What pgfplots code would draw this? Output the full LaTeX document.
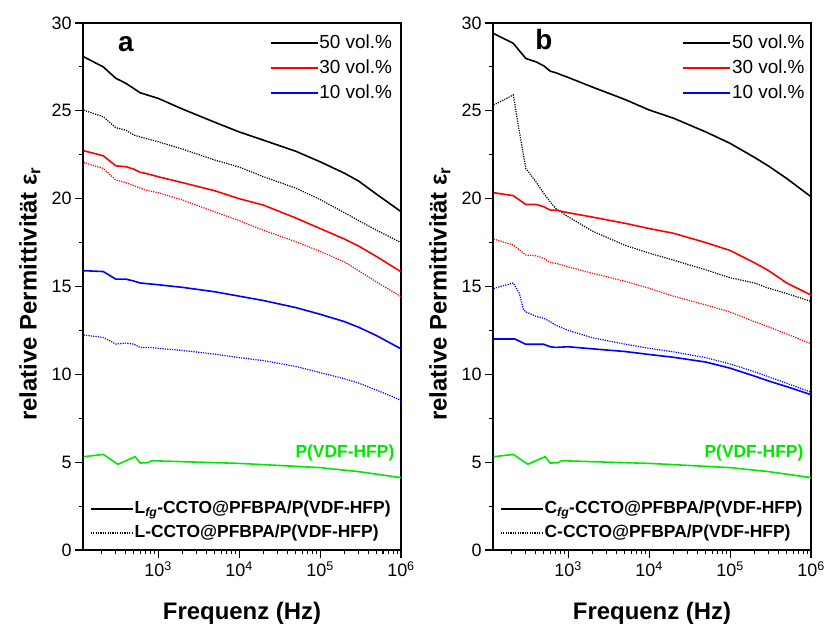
\documentclass[border=0pt]{standalone}
\usepackage{pgfplots}
\pgfplotsset{compat=1.18}
\usepackage{fontspec}
\setmainfont{Liberation Sans}
\definecolor{pgreen}{RGB}{0,232,0}
\definecolor{pred}{RGB}{255,0,0}
\definecolor{pblue}{RGB}{0,0,255}
\tikzset{
  sol/.style={line width=1.6bp},
  dot/.style={line width=1.2bp, dash pattern=on 1.2bp off 1.2bp},
}
\pgfplotsset{
  panel/.style={
    anchor=south west, scale only axis,
    width=318bp, height=527bp,
    xmin=118, xmax=1e6, ymin=0, ymax=30,
    xtick={1e3,1e4,1e5,1e6},
    xticklabels={10\textsuperscript{3},10\textsuperscript{4},10\textsuperscript{5},10\textsuperscript{6}},
    minor xtick={200,300,400,500,600,700,800,900,2000,3000,4000,5000,6000,7000,8000,9000,20000,30000,40000,50000,60000,70000,80000,90000,200000,300000,400000,500000,600000,700000,800000,900000},
    ytick={0,5,10,15,20,25,30}, yticklabels={0,5,10,15,20,25,30},
    minor ytick={2.5,7.5,12.5,17.5,22.5,27.5},
    tick pos=left, tick align=outside,
    major tick length=8bp, minor tick length=4.5bp,
    every tick/.style={black, line width=1.1bp},
    axis line style={line width=1.2bp},
    tick label style={font=\fontsize{18}{20}\selectfont},
    xlabel={Frequenz (Hz)},
    ylabel={relative Permittivität ε\textsubscript{r}},
    label style={font=\bfseries\fontsize{24}{26}\selectfont},
    xlabel style={at={(axis description cs:0.5,-0.12)}, anchor=center},
    ylabel style={at={(axis description cs:-0.167,0.486)}, anchor=center},
    legend cell align=left,
    legend style={draw=none, fill=none,
      font=\fontsize{19}{22}\selectfont, row sep=5bp,
      nodes={inner sep=1bp, text height=14bp, text depth=4bp}},
  },
  botlegend/.style={
    hide axis, anchor=south west, scale only axis,
    width=318bp, height=527bp, xmin=0, xmax=1, ymin=0, ymax=1,
    legend cell align=left,
    legend style={at={(axis description cs:0.012,0.008)}, anchor=south west, draw=none, fill=none,
      font=\bfseries\fontsize{17.5}{20}\selectfont, row sep=3bp,
      nodes={inner sep=1bp, text height=14bp, text depth=5bp}},
  },
  limg/.style 2 args={legend image code/.code={\draw[#1] (0bp,0bp) -- (#2,0bp);}},
}
\begin{document}
\begin{tikzpicture}[x=1bp,y=1bp]
\path[use as bounding box] (0,0) rectangle (824,630);
% ---------------- panel a ----------------
\begin{axis}[xmode=log, panel, at={(83bp,80bp)},
  legend style={at={(axis description cs:0.985,0.985)}, anchor=north east}]
\addlegendimage{limg={black,line width=1.2bp}{47bp}}\addlegendentry{50 vol.\%}
\addlegendimage{limg={pred,line width=1.2bp}{47bp}}\addlegendentry{30 vol.\%}
\addlegendimage{limg={pblue,line width=1.2bp}{47bp}}\addlegendentry{10 vol.\%}
\addplot[black,sol,forget plot] coordinates {(120,28.08)(210,27.5)(300,26.85)(350,26.7)(400,26.56)(500,26.27)(600,26.03)(700,25.93)(1000,25.71)(2000,25.1)(5000,24.35)(1e4,23.8)(2e4,23.33)(5e4,22.7)(1e5,22.1)(2e5,21.45)(3e5,21.0)(5e5,20.25)(1e6,19.26)};
\addplot[black,dot,forget plot] coordinates {(120,25.04)(210,24.66)(300,24.04)(400,23.9)(500,23.62)(700,23.43)(1000,23.24)(2000,22.82)(5000,22.2)(1e4,21.8)(2e4,21.25)(5e4,20.6)(1e5,19.95)(2e5,19.2)(3e5,18.75)(5e5,18.2)(1e6,17.5)};
\addplot[pred,sol,forget plot] coordinates {(120,22.73)(210,22.44)(300,21.87)(400,21.82)(500,21.68)(600,21.5)(700,21.44)(1000,21.25)(2000,20.91)(5000,20.45)(1e4,20.0)(2e4,19.63)(5e4,18.9)(1e5,18.3)(2e5,17.7)(3e5,17.3)(5e5,16.7)(1e6,15.84)};
\addplot[pred,dot,forget plot] coordinates {(120,22.06)(210,21.72)(300,21.06)(400,20.91)(500,20.74)(700,20.49)(1000,20.34)(2000,19.92)(5000,19.25)(1e4,18.75)(2e4,18.2)(5e4,17.55)(1e5,17.0)(2e5,16.4)(3e5,15.9)(5e5,15.25)(1e6,14.42)};
\addplot[pblue,sol,forget plot] coordinates {(120,15.9)(210,15.85)(300,15.42)(400,15.42)(500,15.31)(600,15.2)(700,15.17)(1000,15.1)(2000,14.95)(5000,14.7)(1e4,14.45)(2e4,14.2)(5e4,13.8)(1e5,13.42)(2e5,13.0)(3e5,12.68)(5e5,12.2)(1e6,11.45)};
\addplot[pblue,dot,forget plot] coordinates {(120,12.24)(210,12.1)(300,11.72)(400,11.78)(500,11.72)(600,11.53)(800,11.53)(1000,11.48)(2000,11.36)(5000,11.15)(1e4,10.95)(2e4,10.78)(5e4,10.45)(1e5,10.1)(2e5,9.75)(3e5,9.5)(5e5,9.1)(1e6,8.52)};
\addplot[pgreen,sol,forget plot] coordinates {(120,5.31)(210,5.44)(318,4.88)(520,5.31)(600,4.95)(750,4.97)(830,5.08)(1000,5.07)(1e4,4.93)(1e5,4.69)(3e5,4.46)(1e6,4.12)};
\node[anchor=east, text=pgreen, font=\bfseries\fontsize{17.5}{20}\selectfont] at (axis description cs:0.99,0.184) {P(VDF-HFP)};
\node[anchor=base, font=\bfseries\fontsize{28}{30}\selectfont] at (axis description cs:0.135,0.945) {a};
\end{axis}
\begin{axis}[botlegend, at={(83bp,80bp)}]
\addlegendimage{limg={black,line width=1.6bp}{42bp}}\addlegendentry{L\textsubscript{\textit{fg}}-CCTO@PFBPA/P(VDF-HFP)}
\addlegendimage{limg={black,dot}{42bp}}\addlegendentry{L-CCTO@PFBPA/P(VDF-HFP)}
\end{axis}
% ---------------- panel b ----------------
\begin{axis}[xmode=log, panel, at={(493bp,80bp)},
  legend style={at={(axis description cs:0.993,0.985)}, anchor=north east}]
\addlegendimage{limg={black,line width=1.2bp}{47bp}}\addlegendentry{50 vol.\%}
\addlegendimage{limg={pred,line width=1.2bp}{47bp}}\addlegendentry{30 vol.\%}
\addlegendimage{limg={pblue,line width=1.2bp}{47bp}}\addlegendentry{10 vol.\%}
\addplot[black,sol,forget plot] coordinates {(120,29.4)(210,28.84)(300,27.98)(400,27.79)(500,27.56)(600,27.26)(700,27.17)(1000,26.9)(2000,26.35)(5000,25.65)(1e4,25.05)(2e4,24.58)(5e4,23.8)(1e5,23.15)(2e5,22.35)(3e5,21.85)(5e5,21.15)(1e6,20.11)};
\addplot[black,dot,forget plot] coordinates {(120,25.33)(210,25.9)(250,23.8)(300,21.72)(400,20.96)(500,20.3)(600,19.82)(700,19.44)(1000,18.97)(2000,18.15)(5000,17.35)(1e4,16.9)(2e4,16.5)(5e4,15.95)(1e5,15.5)(2e5,15.2)(3e5,14.9)(5e5,14.6)(1e6,14.15)};
\addplot[pred,sol,forget plot] coordinates {(120,20.34)(210,20.17)(300,19.67)(400,19.67)(500,19.54)(600,19.35)(700,19.35)(1000,19.2)(2000,18.95)(5000,18.6)(1e4,18.3)(2e4,18.03)(5e4,17.5)(1e5,17.05)(2e5,16.35)(3e5,15.9)(5e5,15.2)(1e6,14.51)};
\addplot[pred,dot,forget plot] coordinates {(120,17.7)(210,17.36)(300,16.79)(400,16.75)(500,16.6)(600,16.37)(700,16.32)(1000,16.12)(2000,15.75)(5000,15.3)(1e4,14.9)(2e4,14.45)(5e4,13.95)(1e5,13.55)(2e5,13.0)(3e5,12.7)(5e5,12.3)(1e6,11.74)};
\addplot[pblue,sol,forget plot] coordinates {(120,12.01)(220,12.01)(300,11.71)(400,11.71)(500,11.71)(600,11.57)(700,11.53)(1000,11.57)(2000,11.45)(5000,11.3)(1e4,11.13)(2e4,10.97)(5e4,10.7)(1e5,10.35)(2e5,9.9)(3e5,9.62)(5e5,9.3)(1e6,8.84)};
\addplot[pblue,dot,forget plot] coordinates {(120,14.89)(210,15.2)(250,14.6)(280,13.7)(300,13.56)(400,13.3)(500,13.19)(600,13.0)(700,12.8)(1000,12.5)(2000,12.08)(5000,11.72)(1e4,11.48)(2e4,11.28)(5e4,10.95)(1e5,10.59)(2e5,10.15)(3e5,9.86)(5e5,9.49)(1e6,8.98)};
\addplot[pgreen,sol,forget plot] coordinates {(120,5.31)(210,5.44)(318,4.88)(520,5.31)(600,4.95)(750,4.97)(830,5.08)(1000,5.07)(1e4,4.93)(1e5,4.69)(3e5,4.46)(1e6,4.12)};
\node[anchor=east, text=pgreen, font=\bfseries\fontsize{17.5}{20}\selectfont] at (axis description cs:0.987,0.184) {P(VDF-HFP)};
\node[anchor=base, font=\bfseries\fontsize{28}{30}\selectfont] at (axis description cs:0.16,0.95) {b};
\end{axis}
\begin{axis}[botlegend, at={(493bp,80bp)}]
\addlegendimage{limg={black,line width=1.6bp}{42bp}}\addlegendentry{C\textsubscript{\textit{fg}}-CCTO@PFBPA/P(VDF-HFP)}
\addlegendimage{limg={black,dot}{42bp}}\addlegendentry{C-CCTO@PFBPA/P(VDF-HFP)}
\end{axis}
\end{tikzpicture}
\end{document}
